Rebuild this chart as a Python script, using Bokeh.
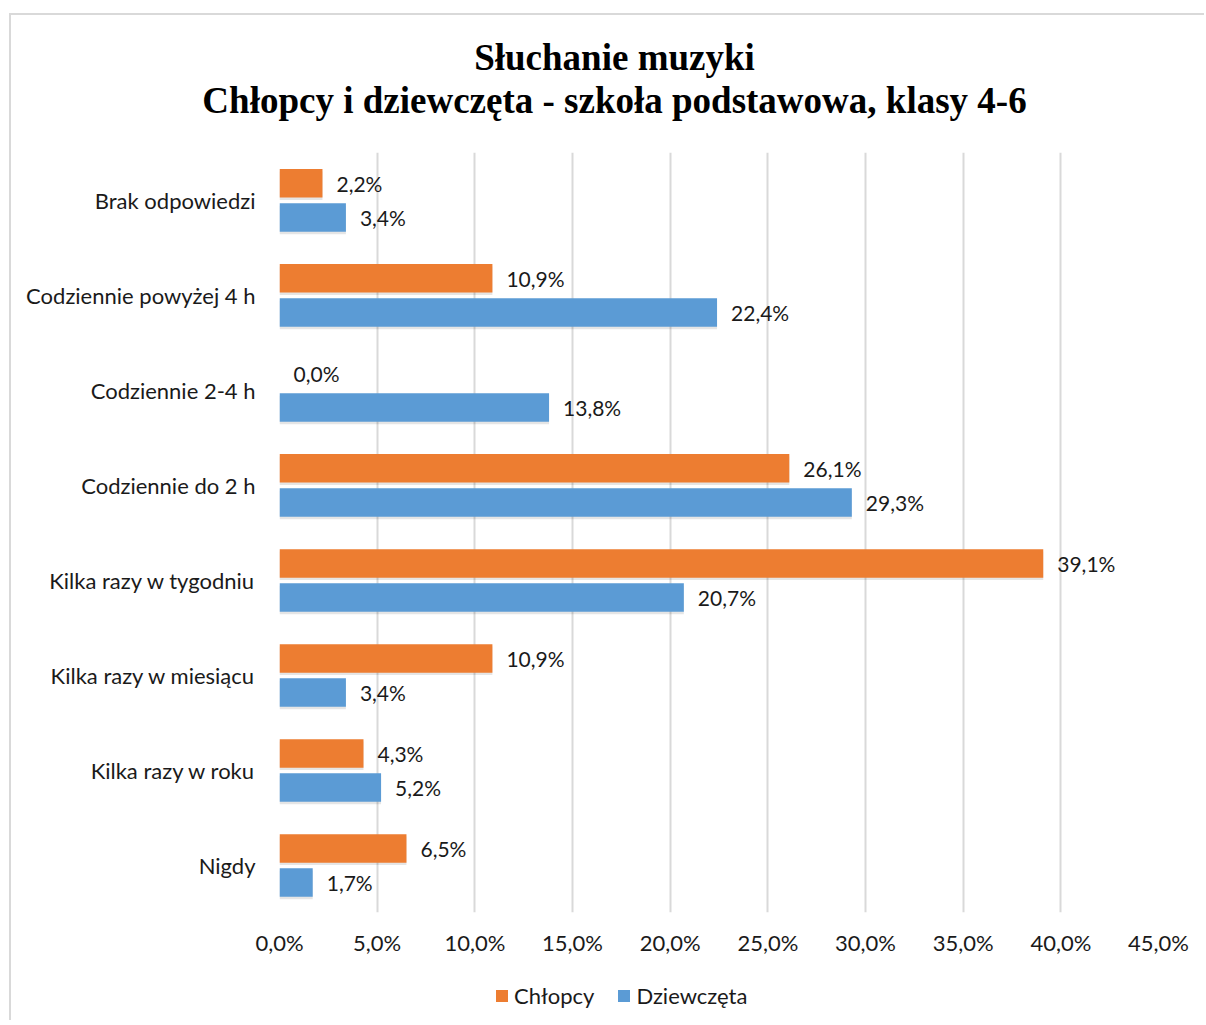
from bokeh.plotting import figure
from bokeh.layouts import column, row
from bokeh.models import (ColumnDataSource, FactorRange, Range1d, FixedTicker, Label,
                          Legend, LegendItem)
from bokeh.transform import dodge
from bokeh.core.properties import value
from bokeh.embed import file_html
from bokeh.resources import INLINE

categories = ["Brak odpowiedzi", "Codziennie powyżej 4 h", "Codziennie 2-4 h",
              "Codziennie do 2 h", "Kilka razy w tygodniu", "Kilka razy w miesiącu",
              "Kilka razy w roku", "Nigdy"]
chlopcy = [2.2, 10.9, 0.0, 26.1, 39.1, 10.9, 4.3, 6.5]
dziewczeta = [3.4, 22.4, 13.8, 29.3, 20.7, 3.4, 5.2, 1.7]
x_ticks = [0, 5, 10, 15, 20, 25, 30, 35, 40, 45]
series_names = ["Chłopcy", "Dziewczęta"]
title_lines = ["Słuchanie muzyki", "Chłopcy i dziewczęta - szkoła podstawowa, klasy 4-6"]

def fmt(v):
    return ("%.1f%%" % v).replace(".", ",")

src = ColumnDataSource(dict(
    cat=categories, ch=chlopcy, dz=dziewczeta,
    ch_lbl=[fmt(v) for v in chlopcy], dz_lbl=[fmt(v) for v in dziewczeta],
))

FONT = "Lato"
FS = "22px"
ORANGE = "#ED7D31"
BLUE = "#5B9BD5"
TXT = "#1a1a1a"
LB, FW, RB = 279, 879, 46

# ---- title strip (nested so its frame spans the full width) ----
TW, TH = LB + FW + RB, 140
t = figure(width=TW, height=TH, output_backend="svg", toolbar_location=None,
           x_range=Range1d(0, TW), y_range=Range1d(0, TH),
           min_border=0, x_axis_type=None, y_axis_type=None)
t.outline_line_color = None
t.grid.grid_line_color = None
t.background_fill_color = None
t.border_fill_color = None
for txt, yy in zip(title_lines, [TH - 57, TH - 100]):
    t.add_layout(Label(x=614, y=yy, text=txt, text_align="center", text_baseline="middle",
                       text_font="Liberation Serif", text_font_size="37px",
                       text_font_style="bold", text_color="#000000"))

# ---- main chart ----
p = figure(frame_width=FW, frame_height=760, output_backend="svg", toolbar_location=None,
           y_range=FactorRange(factors=list(reversed(categories)), range_padding=0),
           x_range=Range1d(0, 45),
           min_border_left=LB, min_border_right=RB, min_border_bottom=50, min_border_top=12)
p.outline_line_color = None
p.background_fill_color = None
p.border_fill_color = None

# soft shadows
p.hbar(y=dodge("cat", 0.150, range=p.y_range), right="ch", height=0.30,
       source=src, fill_color="#000000", fill_alpha=0.10, line_color=None)
p.hbar(y=dodge("cat", -0.210, range=p.y_range), right="dz", height=0.30,
       source=src, fill_color="#000000", fill_alpha=0.10, line_color=None)

p.hbar(y=dodge("cat", 0.175, range=p.y_range), right="ch", height=0.30,
       source=src, fill_color=ORANGE, line_color=None)
p.hbar(y=dodge("cat", -0.185, range=p.y_range), right="dz", height=0.30,
       source=src, fill_color=BLUE, line_color=None)

p.text(x="ch", y=dodge("cat", 0.175, range=p.y_range), text="ch_lbl", source=src,
       x_offset=14, text_baseline="middle", text_font=value(FONT),
       text_font_size="21px", text_color=TXT)
p.text(x="dz", y=dodge("cat", -0.185, range=p.y_range), text="dz_lbl", source=src,
       x_offset=14, text_baseline="middle", text_font=value(FONT),
       text_font_size="21px", text_color=TXT)

p.xaxis.ticker = FixedTicker(ticks=x_ticks)
p.xaxis.major_label_overrides = {t_: fmt(t_) for t_ in x_ticks}
p.xaxis.axis_line_color = None
p.xaxis.major_tick_line_color = None
p.xaxis.minor_tick_line_color = None
p.xaxis.major_tick_out = 0
p.xaxis.major_label_standoff = 16
p.xaxis.major_label_text_font = FONT
p.xaxis.major_label_text_font_size = FS
p.xaxis.major_label_text_color = TXT

p.yaxis.axis_line_color = None
p.yaxis.major_tick_line_color = None
p.yaxis.major_tick_out = 0
p.yaxis.major_label_standoff = 24
p.yaxis.major_label_text_font = FONT
p.yaxis.major_label_text_font_size = FS
p.yaxis.major_label_text_color = TXT

p.xgrid.grid_line_color = "#d9d9d9"
p.xgrid.grid_line_width = 2
p.ygrid.grid_line_color = None

# ---- legend strip ----
lf = figure(frame_width=FW, frame_height=58, output_backend="svg", toolbar_location=None,
            x_range=Range1d(0, 1), y_range=Range1d(0, 1),
            min_border_left=LB, min_border_right=RB, min_border_top=0, min_border_bottom=0,
            x_axis_type=None, y_axis_type=None)
lf.outline_line_color = None
lf.grid.grid_line_color = None
lf.background_fill_color = None
lf.border_fill_color = None
# swatch renderers: one point each, placed outside the visible range
sw_ch = lf.hbar(y=[-10], right=[0.5], height=0.3, fill_color=ORANGE, line_color=None)
sw_dz = lf.hbar(y=[-10], right=[0.5], height=0.3, fill_color=BLUE, line_color=None)
legend = Legend(items=[LegendItem(label=series_names[0], renderers=[sw_ch]),
                       LegendItem(label=series_names[1], renderers=[sw_dz])],
                orientation="horizontal", location=(215, 11),
                label_text_font=FONT, label_text_font_size=FS,
                label_text_color=TXT, glyph_width=15, glyph_height=15,
                spacing=22, border_line_color=None, background_fill_alpha=0,
                margin=0, padding=0, label_standoff=5)
lf.add_layout(legend, "center")

layout = column(row(t), p, lf, spacing=0)
layout.styles = {"box-shadow": "inset 9px 13px 0 0 #ffffff, inset 11px 15px 0 0 #d9d9d9",
                 "background-color": "#ffffff"}
open("out.html", "w").write(file_html(layout, INLINE))
